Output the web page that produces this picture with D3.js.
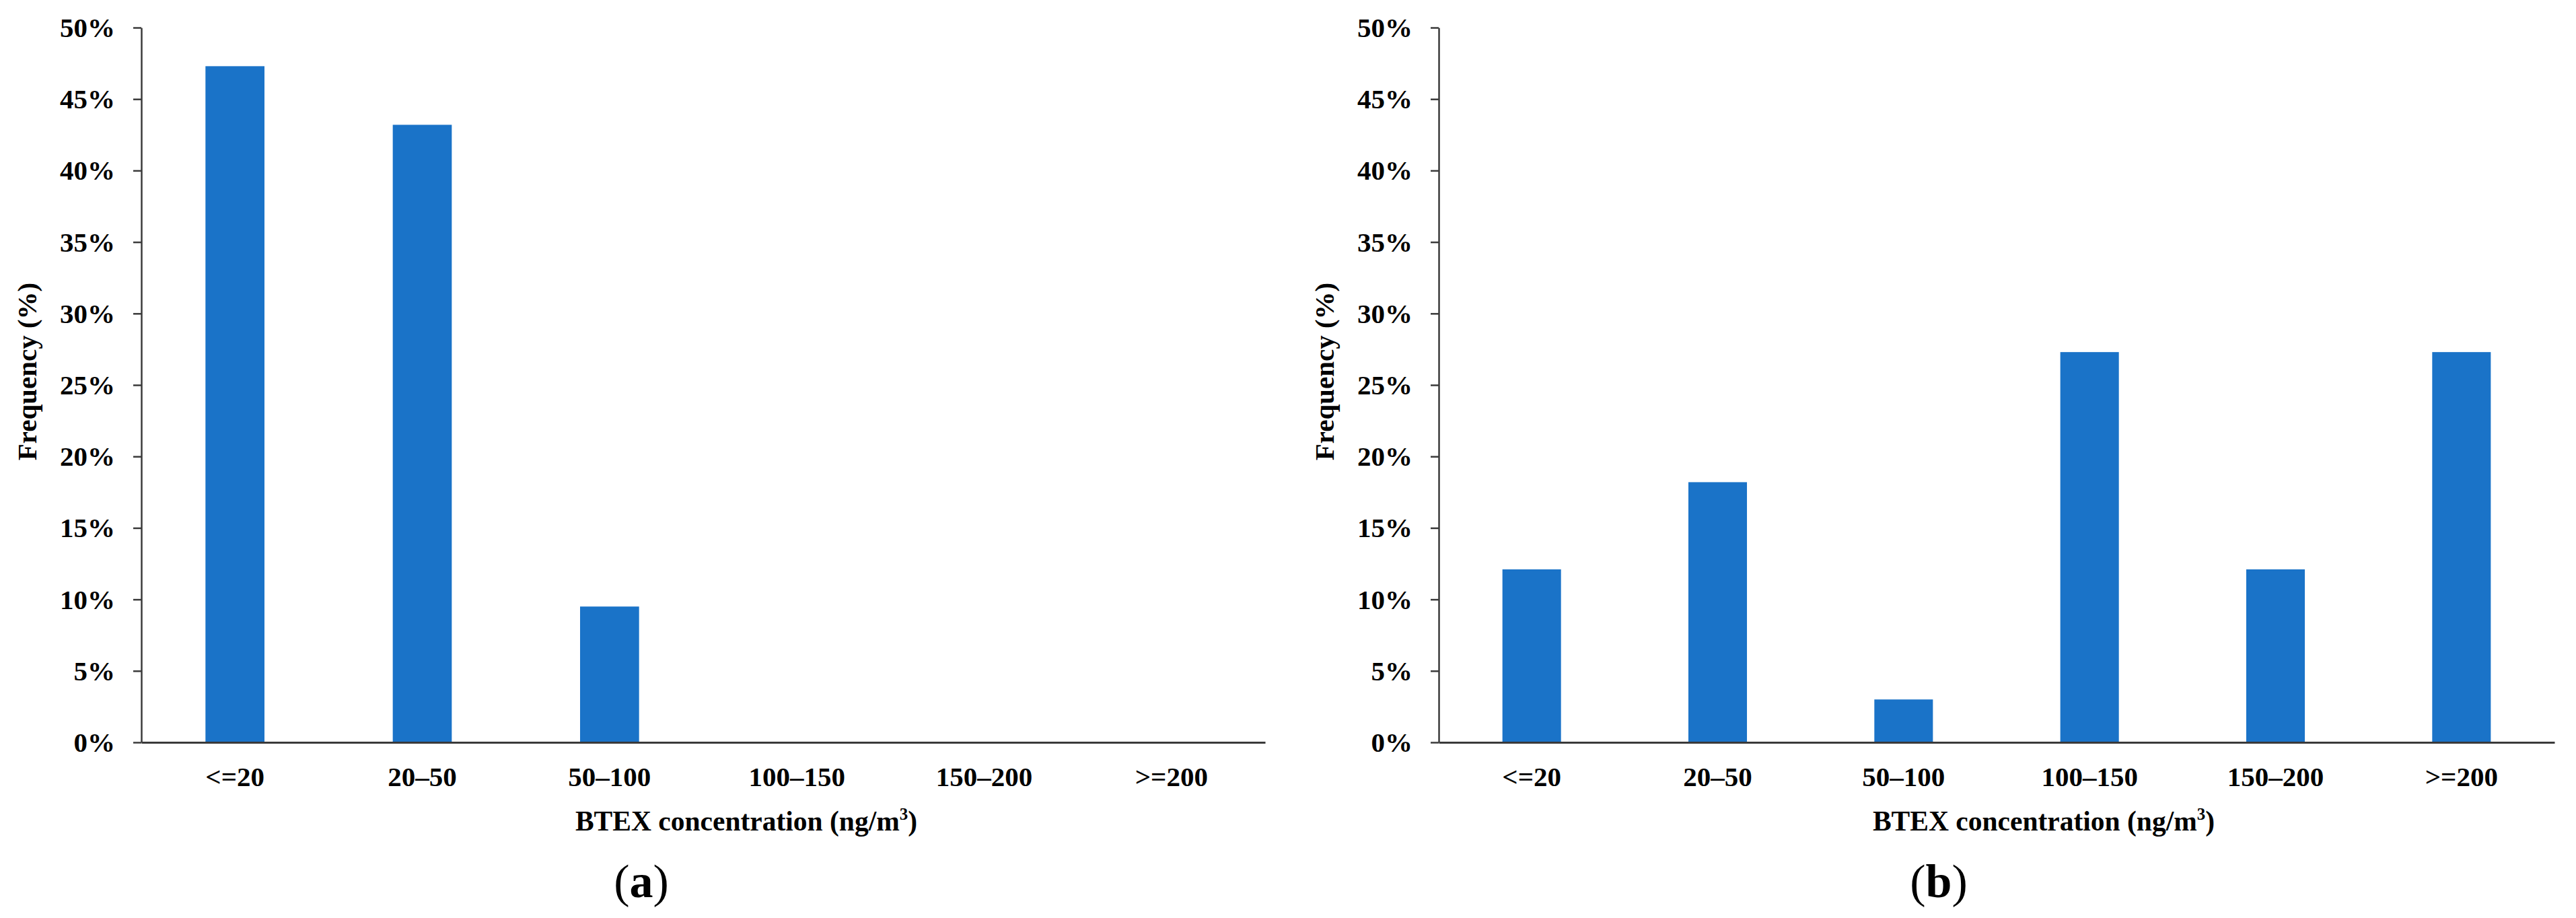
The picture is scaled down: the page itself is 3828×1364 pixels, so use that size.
<!DOCTYPE html>
<html>
<head>
<meta charset="utf-8">
<script src="https://cdn.jsdelivr.net/npm/d3@7"></script>
<style>
  html, body { margin: 0; padding: 0; background: #ffffff; }
  svg { display: block; }
  text { font-family: "Liberation Serif", "Times New Roman", serif; fill: #000; }
</style>
</head>
<body>
<svg id="chart" width="3828" height="1364"></svg>
<script>
// ---- data ----
const categories = ["<=20", "20\u201350", "50\u2013100", "100\u2013150", "150\u2013200", ">=200"];
const seriesA = [47.3, 43.2, 9.5, 0, 0, 0];
const seriesB = [12.1, 18.2, 3.0, 27.3, 12.1, 27.3];
const yTickValues = [0, 5, 10, 15, 20, 25, 30, 35, 40, 45, 50];
const yTitle = "Frequency (%)";
const xTitleMain = "BTEX concentration (ng/m";
const xTitleSup = "3";
const panelLabels = ["a", "b"];

// ---- layout ----
const svg = d3.select("#chart");
const barColor = "#1a73c8";
const axisColor = "#3a3a3a";
const yTop = 41, yBottom = 1103;

const panels = [
  { values: seriesA, x0: 210, x1: 1880, label: panelLabels[0] },
  { values: seriesB, x0: 2138, x1: 3796, label: panelLabels[1] }
];

panels.forEach(p => {
  const g = svg.append("g");
  const x = d3.scaleBand()
    .domain(categories)
    .range([p.x0, p.x1])
    .paddingInner(0.685)
    .paddingOuter(0.3425);
  const y = d3.scaleLinear().domain([0, 50]).range([yBottom, yTop]);

  // bars
  g.selectAll("rect.bar")
    .data(categories.map((c, i) => ({ c, v: p.values[i] })))
    .join("rect")
    .attr("class", "bar")
    .attr("x", d => x(d.c))
    .attr("width", x.bandwidth())
    .attr("y", d => y(d.v))
    .attr("height", d => y(0) - y(d.v))
    .attr("fill", barColor);

  // y axis
  const yAxis = d3.axisLeft(y)
    .tickValues(yTickValues)
    .tickFormat(d => d + "%")
    .tickSize(12)
    .tickSizeOuter(0)
    .tickPadding(27);
  const ya = g.append("g").attr("transform", `translate(${p.x0},0)`).call(yAxis);
  ya.select(".domain").attr("stroke", axisColor).attr("stroke-width", 2.5);
  ya.selectAll(".tick line").attr("stroke", axisColor).attr("stroke-width", 2.5);
  ya.selectAll(".tick text")
    .attr("font-size", 41).attr("font-weight", "bold")
    .attr("font-family", "'Liberation Serif', 'Times New Roman', serif")
    .attr("fill", "#000").attr("dy", "0.33em");

  // x axis
  const xAxis = d3.axisBottom(x).tickSize(0).tickSizeOuter(0).tickPadding(0);
  const xa = g.append("g").attr("transform", `translate(0,${yBottom})`).call(xAxis);
  xa.select(".domain").attr("stroke", axisColor).attr("stroke-width", 2.8);
  xa.selectAll(".tick text")
    .attr("font-size", 41).attr("font-weight", "bold")
    .attr("font-family", "'Liberation Serif', 'Times New Roman', serif")
    .attr("fill", "#000").attr("y", 65).attr("dy", 0);

  // y title
  g.append("text")
    .attr("transform", `translate(${p.x0 - 170},552) rotate(-90)`)
    .attr("text-anchor", "middle")
    .attr("dy", "0.33em")
    .attr("font-size", 41).attr("font-weight", "bold")
    .text(yTitle);

  // x title
  const xt = g.append("text")
    .attr("x", p.x0 + 899)
    .attr("y", 1234)
    .attr("text-anchor", "middle")
    .attr("font-size", 41.5).attr("font-weight", "bold");
  xt.append("tspan").text(xTitleMain);
  xt.append("tspan").attr("font-size", 25).attr("dy", -16).text(xTitleSup);
  xt.append("tspan").attr("dy", 16).text(")");

  // panel label
  const pl = g.append("text")
    .attr("x", p.x0 + 743)
    .attr("y", 1333)
    .attr("text-anchor", "middle")
    .attr("font-size", 70);
  pl.append("tspan").text("(");
  pl.append("tspan").attr("font-weight", "bold").text(p.label);
  pl.append("tspan").text(")");
});
</script>
</body>
</html>
